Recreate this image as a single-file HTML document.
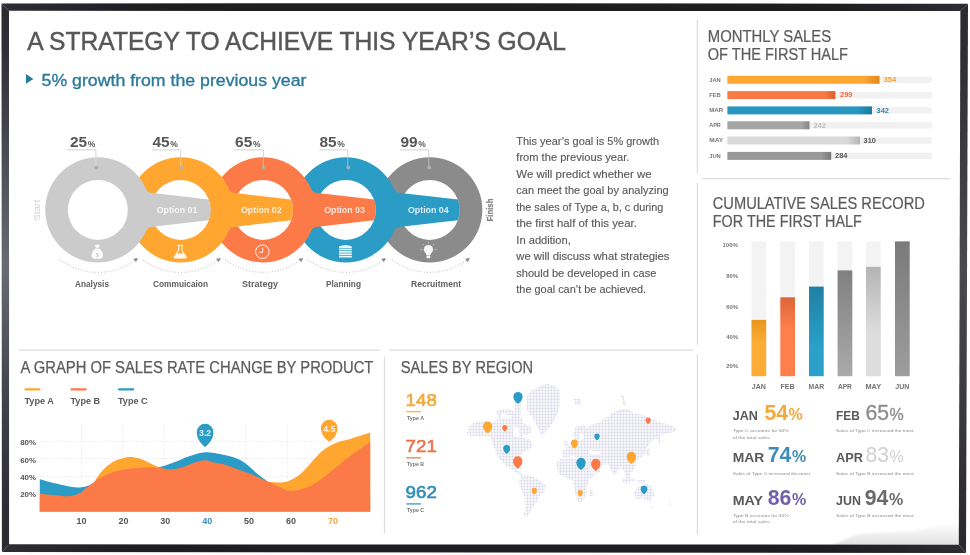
<!DOCTYPE html>
<html lang="en"><head><meta charset="utf-8"><title>A strategy to achieve this year's goal</title>
<style>
html,body{margin:0;padding:0;background:#fff;}
body{width:970px;height:555px;overflow:hidden;}
svg{display:block;font-family:"Liberation Sans", sans-serif;filter:blur(0.55px);}
</style></head><body>
<svg width="970" height="555" viewBox="0 0 970 555">
<rect x="0" y="0" width="970" height="555" fill="#ffffff"/>
<defs><linearGradient id="refl" x1="0" x2="0" y1="0" y2="1"><stop offset="0" stop-color="#e4e4e4" stop-opacity="0"/><stop offset="1" stop-color="#e0e0e0" stop-opacity="1"/></linearGradient><filter id="bl1" x="-5%" y="-20%" width="110%" height="140%"><feGaussianBlur stdDeviation="1.2"/></filter></defs>
<path d="M830,546 L858,534 L915,531 L960,521 L960,546 Z" fill="url(#refl)" filter="url(#bl1)"/>
<defs><linearGradient id="fH" x1="0" x2="1" y1="0" y2="0"><stop offset="0" stop-color="#2d2d33"/><stop offset="0.14" stop-color="#1e1e21"/><stop offset="0.86" stop-color="#1e1e21"/><stop offset="1" stop-color="#2c2c31"/></linearGradient><linearGradient id="fL" x1="0" x2="0" y1="0" y2="1"><stop offset="0" stop-color="#2a2a2f"/><stop offset="0.08" stop-color="#2e2e34"/><stop offset="0.25" stop-color="#48484f"/><stop offset="0.48" stop-color="#6a6a72"/><stop offset="0.72" stop-color="#42424a"/><stop offset="0.92" stop-color="#2d2d33"/><stop offset="1" stop-color="#2a2a2f"/></linearGradient><linearGradient id="fR" x1="0" x2="0" y1="0" y2="1"><stop offset="0" stop-color="#2a2a2f"/><stop offset="0.1" stop-color="#2e2e33"/><stop offset="0.48" stop-color="#4a4a4f"/><stop offset="0.9" stop-color="#2e2e33"/><stop offset="1" stop-color="#29292d"/></linearGradient></defs>
<path d="M1.5,3.5 Q485,2.7 968,3.8 L960.4,11.1 L9,10.8 Z" fill="url(#fH)"/>
<path d="M966,553 L1.9,552 L9.1,544.3 L958.8,544.7 Z" fill="url(#fH)"/>
<path d="M1.9,552 L1.5,3.5 L9,10.8 L9.1,544.3 Z" fill="url(#fL)"/>
<path d="M968,3.8 L966,553 L958.8,544.7 L960.4,11.1 Z" fill="url(#fR)"/>
<g stroke="#dcdcdc" stroke-width="1.2" fill="none">
<path d="M697.3,19.5 V173.5"/>
<path d="M702,178.6 H950"/>
<path d="M697.4,183 V344.7 M697.4,354.8 V534.3"/>
<path d="M19,350.2 H379.7 M389,350.2 H693"/>
<path d="M384.5,356.7 V533.5"/>
</g>
<text x="27.2" y="49.8" font-size="25.8" fill="#575757" textLength="538.8" lengthAdjust="spacingAndGlyphs" stroke="#575757" stroke-width="0.45">A STRATEGY TO ACHIEVE THIS YEAR’S GOAL</text>
<path d="M26,74 L33.4,78.9 L26,83.8 Z" fill="#2a7a9b"/>
<text x="41.6" y="85.6" font-size="16.8" fill="#2a7a9b" textLength="264.8" lengthAdjust="spacingAndGlyphs" stroke="#2a7a9b" stroke-width="0.35">5% growth from the previous year</text>
<path d="M377.10,209.9 a52.6,52.6 0 1,0 105.2,0 a52.6,52.6 0 1,0 -105.2,0 Z M399.70,209.9 a30,30 0 1,1 60,0 a30,30 0 1,1 -60,0 Z" fill="#8b8b8b" fill-rule="evenodd"/>
<path d="M293.20,209.9 a52.6,52.6 0 1,0 105.2,0 a52.6,52.6 0 1,0 -105.2,0 Z M315.80,209.9 a30,30 0 1,1 60,0 a30,30 0 1,1 -60,0 Z" fill="#2a9cc5" fill-rule="evenodd"/>
<path d="M391.24,191.40 L394.24,189.40 Q395.74,192.70 400.80,193.10 L457.88,199.60 A30,30 0 0,1 457.88,220.20 L400.80,226.70 Q395.74,227.10 394.24,230.40 L391.24,228.40 Z" fill="#2a9cc5"/>
<path d="M210.40,209.9 a52.6,52.6 0 1,0 105.2,0 a52.6,52.6 0 1,0 -105.2,0 Z M233.00,209.9 a30,30 0 1,1 60,0 a30,30 0 1,1 -60,0 Z" fill="#fb7a47" fill-rule="evenodd"/>
<path d="M308.44,191.40 L311.44,189.40 Q312.94,192.70 318.00,193.10 L373.98,199.60 A30,30 0 0,1 373.98,220.20 L318.00,226.70 Q312.94,227.10 311.44,230.40 L308.44,228.40 Z" fill="#fb7a47"/>
<path d="M128.00,209.9 a52.6,52.6 0 1,0 105.2,0 a52.6,52.6 0 1,0 -105.2,0 Z M150.60,209.9 a30,30 0 1,1 60,0 a30,30 0 1,1 -60,0 Z" fill="#ffa631" fill-rule="evenodd"/>
<path d="M226.04,191.40 L229.04,189.40 Q230.54,192.70 235.60,193.10 L291.18,199.60 A30,30 0 0,1 291.18,220.20 L235.60,226.70 Q230.54,227.10 229.04,230.40 L226.04,228.40 Z" fill="#ffa631"/>
<path d="M45.25,209.9 a52.6,52.6 0 1,0 105.2,0 a52.6,52.6 0 1,0 -105.2,0 Z M67.85,209.9 a30,30 0 1,1 60,0 a30,30 0 1,1 -60,0 Z" fill="#cbcbcb" fill-rule="evenodd"/>
<path d="M143.29,191.40 L146.29,189.40 Q147.79,192.70 152.85,193.10 L208.78,199.60 A30,30 0 0,1 208.78,220.20 L152.85,226.70 Q147.79,227.10 146.29,230.40 L143.29,228.40 Z" fill="#cbcbcb"/>
<text x="177.0" y="213.4" font-size="9.3" fill="#ffffff" font-weight="bold" text-anchor="middle" textLength="40.6" lengthAdjust="spacingAndGlyphs" fill-opacity="0.82">Option 01</text>
<text x="261.3" y="213.4" font-size="9.3" fill="#ffffff" font-weight="bold" text-anchor="middle" textLength="40.6" lengthAdjust="spacingAndGlyphs" fill-opacity="0.82">Option 02</text>
<text x="344.5" y="213.4" font-size="9.3" fill="#ffffff" font-weight="bold" text-anchor="middle" textLength="40.6" lengthAdjust="spacingAndGlyphs" fill-opacity="0.82">Option 03</text>
<text x="428.3" y="213.4" font-size="9.3" fill="#ffffff" font-weight="bold" text-anchor="middle" textLength="40.6" lengthAdjust="spacingAndGlyphs" fill-opacity="0.82">Option 04</text>
<path d="M67.3,149.9 H95.9 V157.4" stroke="#cecece" stroke-width="0.9" fill="none"/>
<circle cx="96.3" cy="167.5" r="1.9" fill="#a9a9a9" fill-opacity="0.88"/>
<path d="M95.9,157.6 V166" stroke="#ffffff" stroke-opacity="0.45" stroke-width="0.9" fill="none"/>
<text x="69.9" y="146.8" font-size="15.4" fill="#575757" font-weight="bold" textLength="17.2" lengthAdjust="spacingAndGlyphs">25</text>
<text x="87.7" y="146.8" font-size="8.6" fill="#575757" font-weight="bold" textLength="7.6" lengthAdjust="spacingAndGlyphs">%</text>
<path d="M152.1,149.9 H180.7 V157.4" stroke="#cecece" stroke-width="0.9" fill="none"/>
<circle cx="181.1" cy="167.5" r="1.9" fill="#b4b4b4" fill-opacity="0.88"/>
<path d="M180.7,157.6 V166" stroke="#ffffff" stroke-opacity="0.45" stroke-width="0.9" fill="none"/>
<text x="152.4" y="146.8" font-size="15.4" fill="#575757" font-weight="bold" textLength="17.2" lengthAdjust="spacingAndGlyphs">45</text>
<text x="170.2" y="146.8" font-size="8.6" fill="#575757" font-weight="bold" textLength="7.6" lengthAdjust="spacingAndGlyphs">%</text>
<path d="M234.8,149.9 H263.4 V157.4" stroke="#cecece" stroke-width="0.9" fill="none"/>
<circle cx="263.8" cy="167.5" r="1.9" fill="#b4b4b4" fill-opacity="0.88"/>
<path d="M263.4,157.6 V166" stroke="#ffffff" stroke-opacity="0.45" stroke-width="0.9" fill="none"/>
<text x="235.1" y="146.8" font-size="15.4" fill="#575757" font-weight="bold" textLength="17.2" lengthAdjust="spacingAndGlyphs">65</text>
<text x="252.9" y="146.8" font-size="8.6" fill="#575757" font-weight="bold" textLength="7.6" lengthAdjust="spacingAndGlyphs">%</text>
<path d="M319.2,149.9 H347.8 V157.4" stroke="#cecece" stroke-width="0.9" fill="none"/>
<circle cx="348.2" cy="167.5" r="1.9" fill="#b4b4b4" fill-opacity="0.88"/>
<path d="M347.8,157.6 V166" stroke="#ffffff" stroke-opacity="0.45" stroke-width="0.9" fill="none"/>
<text x="319.5" y="146.8" font-size="15.4" fill="#575757" font-weight="bold" textLength="17.2" lengthAdjust="spacingAndGlyphs">85</text>
<text x="337.3" y="146.8" font-size="8.6" fill="#575757" font-weight="bold" textLength="7.6" lengthAdjust="spacingAndGlyphs">%</text>
<path d="M400.2,149.9 H428.8 V157.4" stroke="#cecece" stroke-width="0.9" fill="none"/>
<circle cx="429.2" cy="167.5" r="1.9" fill="#b4b4b4" fill-opacity="0.88"/>
<path d="M428.8,157.6 V166" stroke="#ffffff" stroke-opacity="0.45" stroke-width="0.9" fill="none"/>
<text x="400.5" y="146.8" font-size="15.4" fill="#575757" font-weight="bold" textLength="17.2" lengthAdjust="spacingAndGlyphs">99</text>
<text x="418.3" y="146.8" font-size="8.6" fill="#575757" font-weight="bold" textLength="7.6" lengthAdjust="spacingAndGlyphs">%</text>
<path d="M60.2,259.8 A62.5,62.5 0 0,0 135.5,259.8" stroke="#c4c4c4" stroke-width="1.1" stroke-dasharray="1 1.9" fill="none"/>
<path d="M138.0,257.9 L136.0,262.2 L133.3,258.7 Z" fill="#8a8a8a"/>
<path d="M143.0,259.8 A62.5,62.5 0 0,0 218.2,259.8" stroke="#c4c4c4" stroke-width="1.1" stroke-dasharray="1 1.9" fill="none"/>
<path d="M220.8,257.9 L218.7,262.2 L216.1,258.7 Z" fill="#8a8a8a"/>
<path d="M225.4,259.8 A62.5,62.5 0 0,0 300.6,259.8" stroke="#c4c4c4" stroke-width="1.1" stroke-dasharray="1 1.9" fill="none"/>
<path d="M303.2,257.9 L301.1,262.2 L298.5,258.7 Z" fill="#8a8a8a"/>
<path d="M308.2,259.8 A62.5,62.5 0 0,0 383.4,259.8" stroke="#c4c4c4" stroke-width="1.1" stroke-dasharray="1 1.9" fill="none"/>
<path d="M386.0,257.9 L383.9,262.2 L381.3,258.7 Z" fill="#8a8a8a"/>
<path d="M392.1,259.8 A62.5,62.5 0 0,0 467.3,259.8" stroke="#c4c4c4" stroke-width="1.1" stroke-dasharray="1 1.9" fill="none"/>
<path d="M469.9,257.9 L467.8,262.2 L465.2,258.7 Z" fill="#8a8a8a"/>
<text x="92.0" y="287.3" font-size="8.7" fill="#606060" font-weight="bold" text-anchor="middle" textLength="34.0" lengthAdjust="spacingAndGlyphs">Analysis</text>
<text x="180.5" y="287.3" font-size="8.7" fill="#606060" font-weight="bold" text-anchor="middle" textLength="55.0" lengthAdjust="spacingAndGlyphs">Commuicaion</text>
<text x="260.0" y="287.3" font-size="8.7" fill="#606060" font-weight="bold" text-anchor="middle" textLength="36.0" lengthAdjust="spacingAndGlyphs">Strategy</text>
<text x="343.5" y="287.3" font-size="8.7" fill="#606060" font-weight="bold" text-anchor="middle" textLength="35.0" lengthAdjust="spacingAndGlyphs">Planning</text>
<text x="436.0" y="287.3" font-size="8.7" fill="#606060" font-weight="bold" text-anchor="middle" textLength="50.0" lengthAdjust="spacingAndGlyphs">Recruitment</text>
<text transform="translate(39.5,210.3) rotate(-90)" font-size="9" fill="#d2d2d2" text-anchor="middle" textLength="21" lengthAdjust="spacingAndGlyphs">Start</text>
<text transform="translate(493.2,210) rotate(-90)" font-size="8.6" fill="#858585" stroke="#858585" stroke-width="0.25" font-weight="bold" text-anchor="middle" textLength="22.8" lengthAdjust="spacingAndGlyphs">Finish</text>
<g fill="#fff" fill-opacity="0.92"><path d="M94.7,244.9 q2.6,-0.9 5.2,0 l-1.3,2.9 h-2.6 Z"/><path d="M95.39999999999999,248.4 h3.8 q3.8,3.2 3.8,6.8 q0,3.6 -3.4,3.6 h-4.6 q-3.4,0 -3.4,-3.6 q0,-3.6 3.8,-6.8 Z"/></g>
<text x="97.3" y="256.9" font-size="5.6" font-weight="bold" fill="#cbcbcb" text-anchor="middle">$</text>
<path d="M177.5,245.3 h5.4 M178.6,245.4 v5 l-4.2,6.3 q-0.7,1.2 0.7,1.2 h10.2 q1.4,0 0.7,-1.2 l-4.2,-6.3 v-5" fill="none" stroke="#fff" stroke-opacity="0.92" stroke-width="1.1"/>
<path d="M176.79999999999998,253.6 h6.8 l2.2,3.4 q0.4,0.9 -0.6,0.9 h-10 q-1,0 -0.6,-0.9 Z" fill="#fff" fill-opacity="0.92"/>
<circle cx="262.4" cy="251.7" r="6.8" fill="none" stroke="#fff" stroke-opacity="0.9" stroke-width="1"/>
<path d="M262.7,247.5 V252.29999999999998 H259.0" fill="none" stroke="#fff" stroke-opacity="0.9" stroke-width="1"/>
<g fill="#fff" fill-opacity="0.9"><path d="M339.0,246.4 q6.4,-3 12.8,0 v1.6 h-12.8 Z"/>
<rect x="339.0" y="248.6" width="12.8" height="1.7"/>
<rect x="339.0" y="251.0" width="12.8" height="1.7"/>
<rect x="339.0" y="253.4" width="12.8" height="1.7"/>
<rect x="339.0" y="255.8" width="12.8" height="1.7"/>
</g>
<g fill="#fff" fill-opacity="0.92"><circle cx="428.4" cy="249.6" r="4.6"/><path d="M425.79999999999995,253 h5.2 l-0.6,2.2 h-4 Z"/><rect x="426.5" y="255.6" width="3.8" height="2.6" rx="0.9"/></g>
<g stroke="#fff" stroke-width="0.7" opacity="0.7"><path d="M420.4,249.6 h1.7 M434.7,249.6 h1.7 M428.4,241.8 v1.6 M422.79999999999995,244 l1.1,1.1 M434.0,244 l-1.1,1.1"/></g>
<text x="516.3" y="144.8" font-size="11.1" fill="#5a5a5a" textLength="142.8" lengthAdjust="spacingAndGlyphs" stroke="#5a5a5a" stroke-width="0.15">This year’s goal is 5% growth</text>
<text x="516.3" y="161.3" font-size="11.1" fill="#5a5a5a" textLength="113.1" lengthAdjust="spacingAndGlyphs" stroke="#5a5a5a" stroke-width="0.15">from the previous year.</text>
<text x="516.3" y="177.8" font-size="11.1" fill="#5a5a5a" textLength="135.3" lengthAdjust="spacingAndGlyphs" stroke="#5a5a5a" stroke-width="0.15">We will predict whether we</text>
<text x="516.3" y="194.2" font-size="11.1" fill="#5a5a5a" textLength="152.4" lengthAdjust="spacingAndGlyphs" stroke="#5a5a5a" stroke-width="0.15">can meet the goal by analyzing</text>
<text x="516.3" y="210.7" font-size="11.1" fill="#5a5a5a" textLength="147.0" lengthAdjust="spacingAndGlyphs" stroke="#5a5a5a" stroke-width="0.15">the sales of Type a, b, c during</text>
<text x="516.3" y="227.2" font-size="11.1" fill="#5a5a5a" textLength="120.6" lengthAdjust="spacingAndGlyphs" stroke="#5a5a5a" stroke-width="0.15">the first half of this year.</text>
<text x="516.3" y="243.7" font-size="11.1" fill="#5a5a5a" textLength="54.5" lengthAdjust="spacingAndGlyphs" stroke="#5a5a5a" stroke-width="0.15">In addition,</text>
<text x="516.3" y="260.2" font-size="11.1" fill="#5a5a5a" textLength="153.1" lengthAdjust="spacingAndGlyphs" stroke="#5a5a5a" stroke-width="0.15">we will discuss what strategies</text>
<text x="516.3" y="276.6" font-size="11.1" fill="#5a5a5a" textLength="140.1" lengthAdjust="spacingAndGlyphs" stroke="#5a5a5a" stroke-width="0.15">should be developed in case</text>
<text x="516.3" y="293.1" font-size="11.1" fill="#5a5a5a" textLength="129.8" lengthAdjust="spacingAndGlyphs" stroke="#5a5a5a" stroke-width="0.15">the goal can’t be achieved.</text>
<text x="707.8" y="41.6" font-size="16.3" fill="#5c5c5c" textLength="123.4" lengthAdjust="spacingAndGlyphs" stroke="#5c5c5c" stroke-width="0.22">MONTHLY SALES</text>
<text x="707.8" y="59.7" font-size="16.3" fill="#5c5c5c" textLength="140.2" lengthAdjust="spacingAndGlyphs" stroke="#5c5c5c" stroke-width="0.22">OF THE FIRST HALF</text>
<defs>
<linearGradient id="hA" x1="0" x2="1" y1="0" y2="0"><stop offset="0" stop-color="#ffa631"/><stop offset="0.9" stop-color="#ffa631"/><stop offset="1" stop-color="#e08a1c"/></linearGradient>
<linearGradient id="hB" x1="0" x2="1" y1="0" y2="0"><stop offset="0" stop-color="#f97a45"/><stop offset="0.9" stop-color="#f97a45"/><stop offset="1" stop-color="#d95f2c"/></linearGradient>
<linearGradient id="hC" x1="0" x2="1" y1="0" y2="0"><stop offset="0" stop-color="#2797c0"/><stop offset="0.9" stop-color="#2797c0"/><stop offset="1" stop-color="#1b7a9f"/></linearGradient>
<linearGradient id="hD" x1="0" x2="1" y1="0" y2="0"><stop offset="0" stop-color="#a5a5a5"/><stop offset="0.9" stop-color="#a5a5a5"/><stop offset="1" stop-color="#858585"/></linearGradient>
<linearGradient id="hE" x1="0" x2="1" y1="0" y2="0"><stop offset="0" stop-color="#dadada"/><stop offset="0.9" stop-color="#dadada"/><stop offset="1" stop-color="#b5b5b5"/></linearGradient>
<linearGradient id="hF" x1="0" x2="1" y1="0" y2="0"><stop offset="0" stop-color="#989898"/><stop offset="0.9" stop-color="#989898"/><stop offset="1" stop-color="#7a7a7a"/></linearGradient>
<linearGradient id="vA" x1="0" x2="0" y1="0" y2="1"><stop offset="0" stop-color="#e9961d"/><stop offset="0.4" stop-color="#ffac37"/><stop offset="1" stop-color="#ffac37"/></linearGradient>
<linearGradient id="vB" x1="0" x2="0" y1="0" y2="1"><stop offset="0" stop-color="#dc653a"/><stop offset="0.4" stop-color="#ff7f4c"/><stop offset="1" stop-color="#ff7f4c"/></linearGradient>
<linearGradient id="vC" x1="0" x2="0" y1="0" y2="1"><stop offset="0" stop-color="#1f80a5"/><stop offset="0.7" stop-color="#2ba1c9"/><stop offset="1" stop-color="#2ba1c9"/></linearGradient>
<linearGradient id="vD" x1="0" x2="0" y1="0" y2="1"><stop offset="0" stop-color="#808080"/><stop offset="1" stop-color="#aaaaaa"/><stop offset="1" stop-color="#aaaaaa"/></linearGradient>
<linearGradient id="vE" x1="0" x2="0" y1="0" y2="1"><stop offset="0" stop-color="#b4b4b4"/><stop offset="0.6" stop-color="#dddddd"/><stop offset="1" stop-color="#dddddd"/></linearGradient>
<linearGradient id="vF" x1="0" x2="0" y1="0" y2="1"><stop offset="0" stop-color="#7a7a7a"/><stop offset="1" stop-color="#9d9d9d"/><stop offset="1" stop-color="#9d9d9d"/></linearGradient>
</defs>
<rect x="727.4" y="76.6" width="204.3" height="6.4" fill="#f1f1f1"/>
<rect x="727.4" y="75.8" width="152.1" height="8" fill="url(#hA)"/>
<text x="709.2" y="81.6" font-size="5" fill="#777" font-weight="bold" textLength="11.6" lengthAdjust="spacingAndGlyphs">JAN</text>
<text x="883.7" y="82.0" font-size="6.3" fill="#f0a030" font-weight="bold" textLength="12.4" lengthAdjust="spacingAndGlyphs">354</text>
<rect x="727.4" y="91.9" width="204.3" height="6.4" fill="#f1f1f1"/>
<rect x="727.4" y="91.1" width="108.0" height="8" fill="url(#hB)"/>
<text x="709.2" y="96.9" font-size="5" fill="#777" font-weight="bold" textLength="11.6" lengthAdjust="spacingAndGlyphs">FEB</text>
<text x="840.0" y="97.3" font-size="6.3" fill="#f06a3a" font-weight="bold" textLength="12.4" lengthAdjust="spacingAndGlyphs">299</text>
<rect x="727.4" y="107.2" width="204.3" height="6.4" fill="#f1f1f1"/>
<rect x="727.4" y="106.4" width="144.6" height="8" fill="url(#hC)"/>
<text x="709.2" y="112.2" font-size="5" fill="#777" font-weight="bold" textLength="14.0" lengthAdjust="spacingAndGlyphs">MAR</text>
<text x="876.6" y="112.6" font-size="6.3" fill="#2a8ab5" font-weight="bold" textLength="12.4" lengthAdjust="spacingAndGlyphs">342</text>
<rect x="727.4" y="122.1" width="204.3" height="6.4" fill="#f1f1f1"/>
<rect x="727.4" y="121.3" width="82.1" height="8" fill="url(#hD)"/>
<text x="709.2" y="127.1" font-size="5" fill="#777" font-weight="bold" textLength="11.6" lengthAdjust="spacingAndGlyphs">APR</text>
<text x="813.4" y="127.5" font-size="6.3" fill="#bdbdbd" font-weight="bold" textLength="12.4" lengthAdjust="spacingAndGlyphs">242</text>
<rect x="727.4" y="137.3" width="204.3" height="6.4" fill="#f1f1f1"/>
<rect x="727.4" y="136.5" width="132.6" height="8" fill="url(#hE)"/>
<text x="709.2" y="142.3" font-size="5" fill="#777" font-weight="bold" textLength="14.0" lengthAdjust="spacingAndGlyphs">MAY</text>
<text x="863.6" y="142.7" font-size="6.3" fill="#555" font-weight="bold" textLength="12.4" lengthAdjust="spacingAndGlyphs">310</text>
<rect x="727.4" y="152.7" width="204.3" height="6.4" fill="#f1f1f1"/>
<rect x="727.4" y="151.9" width="103.8" height="8" fill="url(#hF)"/>
<text x="709.2" y="157.7" font-size="5" fill="#777" font-weight="bold" textLength="11.6" lengthAdjust="spacingAndGlyphs">JUN</text>
<text x="835.0" y="158.1" font-size="6.3" fill="#555" font-weight="bold" textLength="12.4" lengthAdjust="spacingAndGlyphs">284</text>
<text x="712.8" y="208.6" font-size="17" fill="#5c5c5c" textLength="212.0" lengthAdjust="spacingAndGlyphs" stroke="#5c5c5c" stroke-width="0.22">CUMULATIVE SALES RECORD</text>
<text x="712.8" y="226.5" font-size="17" fill="#5c5c5c" textLength="149.0" lengthAdjust="spacingAndGlyphs" stroke="#5c5c5c" stroke-width="0.22">FOR THE FIRST HALF</text>
<rect x="751.5" y="241.4" width="14.7" height="134.8" fill="#f3f3f3"/>
<rect x="751.5" y="319.9" width="14.7" height="56.3" fill="url(#vA)"/>
<text x="758.8" y="389.0" font-size="6.8" fill="#727272" font-weight="bold" text-anchor="middle" textLength="14.0" lengthAdjust="spacingAndGlyphs">JAN</text>
<rect x="780.3" y="241.4" width="14.7" height="134.8" fill="#f3f3f3"/>
<rect x="780.3" y="297.3" width="14.7" height="78.9" fill="url(#vB)"/>
<text x="787.6" y="389.0" font-size="6.8" fill="#727272" font-weight="bold" text-anchor="middle" textLength="14.0" lengthAdjust="spacingAndGlyphs">FEB</text>
<rect x="809" y="241.4" width="14.7" height="134.8" fill="#f3f3f3"/>
<rect x="809" y="286.6" width="14.7" height="89.6" fill="url(#vC)"/>
<text x="816.3" y="389.0" font-size="6.8" fill="#727272" font-weight="bold" text-anchor="middle" textLength="15.6" lengthAdjust="spacingAndGlyphs">MAR</text>
<rect x="837.6" y="241.4" width="14.7" height="134.8" fill="#f3f3f3"/>
<rect x="837.6" y="270.4" width="14.7" height="105.8" fill="url(#vD)"/>
<text x="844.9" y="389.0" font-size="6.8" fill="#727272" font-weight="bold" text-anchor="middle" textLength="14.0" lengthAdjust="spacingAndGlyphs">APR</text>
<rect x="866" y="241.4" width="14.7" height="134.8" fill="#f3f3f3"/>
<rect x="866" y="266.8" width="14.7" height="109.4" fill="url(#vE)"/>
<text x="873.3" y="389.0" font-size="6.8" fill="#727272" font-weight="bold" text-anchor="middle" textLength="15.6" lengthAdjust="spacingAndGlyphs">MAY</text>
<rect x="895" y="241.4" width="14.7" height="134.8" fill="#f3f3f3"/>
<rect x="895" y="241.4" width="14.7" height="134.8" fill="url(#vF)"/>
<text x="902.3" y="389.0" font-size="6.8" fill="#727272" font-weight="bold" text-anchor="middle" textLength="14.0" lengthAdjust="spacingAndGlyphs">JUN</text>
<text x="738.0" y="247.3" font-size="5.6" fill="#777" font-weight="bold" text-anchor="end" textLength="15.6" lengthAdjust="spacingAndGlyphs">100%</text>
<text x="738.0" y="278.2" font-size="5.6" fill="#777" font-weight="bold" text-anchor="end" textLength="11.8" lengthAdjust="spacingAndGlyphs">80%</text>
<text x="738.0" y="308.7" font-size="5.6" fill="#777" font-weight="bold" text-anchor="end" textLength="11.8" lengthAdjust="spacingAndGlyphs">60%</text>
<text x="738.0" y="338.5" font-size="5.6" fill="#777" font-weight="bold" text-anchor="end" textLength="11.8" lengthAdjust="spacingAndGlyphs">40%</text>
<text x="738.0" y="368.2" font-size="5.6" fill="#777" font-weight="bold" text-anchor="end" textLength="11.8" lengthAdjust="spacingAndGlyphs">20%</text>
<text x="732.7" y="419.7" font-size="13.6" fill="#585858" font-weight="bold" textLength="25.2" lengthAdjust="spacingAndGlyphs">JAN</text>
<text x="764.4" y="419.5" font-size="22.3" fill="#f5a83a" font-weight="bold" textLength="23.6" lengthAdjust="spacingAndGlyphs">54</text>
<text x="788.6" y="419.5" font-size="15.6" fill="#f5a83a" font-weight="bold" textLength="14.2" lengthAdjust="spacingAndGlyphs">%</text>
<text x="732.7" y="431.9" font-size="4.4" fill="#8c8c8c" textLength="56.0" lengthAdjust="spacingAndGlyphs">Type C accounts for 50%</text>
<text x="732.7" y="438.9" font-size="4.4" fill="#8c8c8c" textLength="38.4" lengthAdjust="spacingAndGlyphs">of the total sales.</text>
<text x="836.1" y="419.7" font-size="13.6" fill="#585858" font-weight="bold" textLength="23.7" lengthAdjust="spacingAndGlyphs">FEB</text>
<text x="865.4" y="419.5" font-size="22.3" fill="#8c8c8c" textLength="23.6" lengthAdjust="spacingAndGlyphs" stroke="#8c8c8c" stroke-width="0.3">65</text>
<text x="889.6" y="419.5" font-size="15.6" fill="#8c8c8c" textLength="14.2" lengthAdjust="spacingAndGlyphs" stroke="#8c8c8c" stroke-width="0.3">%</text>
<text x="836.1" y="431.9" font-size="4.4" fill="#8c8c8c" textLength="78.6" lengthAdjust="spacingAndGlyphs">Sales of Type C increased the most.</text>
<text x="732.7" y="462.4" font-size="13.6" fill="#585858" font-weight="bold" textLength="31.6" lengthAdjust="spacingAndGlyphs">MAR</text>
<text x="767.8" y="462.2" font-size="22.3" fill="#3d8cb8" font-weight="bold" textLength="23.6" lengthAdjust="spacingAndGlyphs">74</text>
<text x="792.0" y="462.2" font-size="15.6" fill="#3d8cb8" font-weight="bold" textLength="14.2" lengthAdjust="spacingAndGlyphs">%</text>
<text x="732.7" y="475.2" font-size="4.4" fill="#8c8c8c" textLength="78.6" lengthAdjust="spacingAndGlyphs">Sales of Type C increased the most.</text>
<text x="836.1" y="462.4" font-size="13.6" fill="#585858" font-weight="bold" textLength="27.0" lengthAdjust="spacingAndGlyphs">APR</text>
<text x="865.4" y="462.2" font-size="22.3" fill="#d0d0d0" textLength="23.6" lengthAdjust="spacingAndGlyphs">83</text>
<text x="889.6" y="462.2" font-size="15.6" fill="#d0d0d0" textLength="14.2" lengthAdjust="spacingAndGlyphs">%</text>
<text x="836.1" y="475.2" font-size="4.4" fill="#8c8c8c" textLength="78.6" lengthAdjust="spacingAndGlyphs">Sales of Type B increased the most.</text>
<text x="732.7" y="505.3" font-size="13.6" fill="#585858" font-weight="bold" textLength="30.4" lengthAdjust="spacingAndGlyphs">MAY</text>
<text x="767.8" y="505.1" font-size="22.3" fill="#7161a9" font-weight="bold" textLength="23.6" lengthAdjust="spacingAndGlyphs">86</text>
<text x="792.0" y="505.1" font-size="15.6" fill="#7161a9" font-weight="bold" textLength="14.2" lengthAdjust="spacingAndGlyphs">%</text>
<text x="732.7" y="516.7" font-size="4.4" fill="#8c8c8c" textLength="56.0" lengthAdjust="spacingAndGlyphs">Type B accounts for 45%</text>
<text x="732.7" y="523.1" font-size="4.4" fill="#8c8c8c" textLength="38.4" lengthAdjust="spacingAndGlyphs">of the total sales.</text>
<text x="836.1" y="505.3" font-size="13.6" fill="#585858" font-weight="bold" textLength="24.8" lengthAdjust="spacingAndGlyphs">JUN</text>
<text x="864.8" y="505.1" font-size="22.3" fill="#6a6a6a" font-weight="bold" textLength="23.6" lengthAdjust="spacingAndGlyphs">94</text>
<text x="889.0" y="505.1" font-size="15.6" fill="#6a6a6a" font-weight="bold" textLength="14.2" lengthAdjust="spacingAndGlyphs">%</text>
<text x="836.1" y="516.7" font-size="4.4" fill="#8c8c8c" textLength="78.6" lengthAdjust="spacingAndGlyphs">Sales of Type B increased the most.</text>
<text x="20.6" y="373.2" font-size="16" fill="#5c5c5c" textLength="352.8" lengthAdjust="spacingAndGlyphs" stroke="#5c5c5c" stroke-width="0.25">A GRAPH OF SALES RATE CHANGE BY PRODUCT</text>
<rect x="24.4" y="388.3" width="16.2" height="2.2" rx="1" fill="#ffa631"/>
<text x="24.4" y="403.8" font-size="9.4" fill="#5a5a5a" font-weight="bold" textLength="29.6" lengthAdjust="spacingAndGlyphs">Type A</text>
<rect x="70.5" y="388.3" width="16.2" height="2.2" rx="1" fill="#fb7a47"/>
<text x="70.5" y="403.8" font-size="9.4" fill="#5a5a5a" font-weight="bold" textLength="29.6" lengthAdjust="spacingAndGlyphs">Type B</text>
<rect x="118" y="388.3" width="16.2" height="2.2" rx="1" fill="#2a9cc5"/>
<text x="118.0" y="403.8" font-size="9.4" fill="#5a5a5a" font-weight="bold" textLength="29.6" lengthAdjust="spacingAndGlyphs">Type C</text>
<g stroke="#dedede" stroke-width="0.8" stroke-dasharray="1 1.4" fill="none">
<path d="M39.8,441.3 H370"/>
<path d="M39.8,458.6 H370"/>
<path d="M39.8,476.6 H370"/>
<path d="M81.3,424.3 V478"/>
<path d="M122.8,424.3 V478"/>
<path d="M163.8,424.3 V478"/>
<path d="M246.1,424.3 V478"/>
<path d="M287.6,424.3 V478"/>
</g>
<path d="M39.8,479.2 C42.5,479.9 49.8,482.1 56.0,483.5 C62.2,484.9 71.2,487.4 77.2,487.5 C83.2,487.6 86.2,486.0 91.7,484.4 C97.2,482.8 99.3,480.7 110.0,478.0 C120.7,475.3 145.2,470.7 156.0,468.0 C166.8,465.3 169.3,464.0 175.0,462.0 C180.7,460.0 184.9,457.6 190.0,456.0 C195.1,454.4 200.4,452.6 205.7,452.3 C211.0,452.1 216.8,453.5 222.0,454.5 C227.2,455.5 232.6,456.8 236.8,458.5 C241.0,460.2 243.8,462.1 247.2,464.7 C250.6,467.3 254.2,471.3 257.5,474.0 C260.8,476.7 263.1,478.2 266.9,480.9 C270.6,483.6 274.5,487.3 280.0,490.0 C285.5,492.7 285.0,495.8 300.0,497.0 C315.0,498.2 358.5,497.0 370.2,497.0 L370.2,511.6 L39.8,511.6 Z" fill="#2a9cc5"/>
<path d="M39.8,502.0 C47.2,501.7 74.8,503.4 84.0,500.0 C93.2,496.6 91.8,486.1 94.8,481.3 C97.8,476.5 99.4,473.9 102.0,471.0 C104.6,468.1 107.5,465.6 110.3,463.7 C113.1,461.8 115.5,460.7 118.6,459.6 C121.7,458.5 125.5,457.2 129.0,457.0 C132.5,456.8 136.0,457.5 139.4,458.5 C142.8,459.5 146.6,461.6 149.7,463.0 C152.8,464.4 153.8,465.3 158.0,466.8 C162.2,468.3 168.0,470.8 175.0,472.0 C182.0,473.2 187.5,472.3 200.0,474.0 C212.5,475.7 238.7,480.7 250.0,482.0 C261.3,483.3 263.2,481.6 267.9,481.7 C272.6,481.8 274.9,482.5 278.3,482.4 C281.8,482.3 285.2,482.1 288.6,480.9 C292.1,479.7 295.5,477.8 299.0,475.1 C302.5,472.4 305.9,468.3 309.4,464.7 C312.8,461.1 316.2,456.5 319.7,453.3 C323.1,450.1 326.7,447.7 330.1,445.7 C333.6,443.7 336.9,442.6 340.4,441.5 C343.8,440.4 345.8,440.3 350.8,438.8 C355.8,437.3 367.0,433.6 370.2,432.6 L370.2,511.6 L39.8,511.6 Z" fill="#ffa631"/>
<path d="M39.8,493.8 C42.3,494.0 50.1,494.8 55.0,495.2 C59.9,495.6 64.8,496.6 69.0,496.2 C73.2,495.8 77.2,494.3 80.0,493.0 C82.8,491.7 82.5,490.9 85.5,488.6 C88.5,486.3 94.2,481.6 98.0,479.2 C101.8,476.8 104.9,475.4 108.3,474.0 C111.7,472.6 114.8,471.4 118.6,470.5 C122.4,469.6 125.8,469.1 131.0,468.5 C136.2,467.9 144.9,467.3 149.7,467.2 C154.5,467.1 156.9,467.4 160.0,467.8 C163.1,468.2 164.9,469.3 168.4,469.3 C171.9,469.3 176.7,468.9 180.8,467.8 C184.9,466.8 189.2,464.3 193.2,463.0 C197.2,461.7 201.0,460.2 204.6,460.2 C208.2,460.1 211.5,461.9 215.0,462.7 C218.5,463.5 220.0,463.1 225.7,464.9 C231.4,466.7 242.0,470.7 249.4,473.6 C256.8,476.5 264.1,479.9 270.0,482.5 C275.9,485.1 280.8,488.0 285.0,489.4 C289.2,490.8 290.9,491.1 295.0,490.6 C299.1,490.1 305.3,488.2 309.4,486.5 C313.5,484.8 316.2,482.7 319.7,480.3 C323.1,477.9 326.7,474.8 330.1,472.0 C333.6,469.2 336.9,466.5 340.4,463.7 C343.8,460.9 347.3,458.0 350.8,455.4 C354.3,452.8 358.0,450.4 361.2,448.2 C364.4,445.9 368.7,442.9 370.2,441.9 L370.2,511.6 L39.8,511.6 Z" fill="#fb7a47"/>
<path d="M196.80,432.00 A8.3,8.3 0 0,1 213.40,432.00 C213.40,439.45 208.59,444.52 205.10,446.90 C201.61,444.52 196.80,439.45 196.80,432.00 Z" fill="#2a9cc5"/>
<text x="205.1" y="436.2" font-size="9" fill="#fff" font-weight="bold" text-anchor="middle" textLength="12.0" lengthAdjust="spacingAndGlyphs" fill-opacity="0.85">3.2</text>
<path d="M320.90,428.00 A8.3,8.3 0 0,1 337.50,428.00 C337.50,434.80 332.69,439.42 329.20,441.60 C325.71,439.42 320.90,434.80 320.90,428.00 Z" fill="#ffa631"/>
<text x="329.2" y="432.2" font-size="9" fill="#fff" font-weight="bold" text-anchor="middle" textLength="12.0" lengthAdjust="spacingAndGlyphs" fill-opacity="0.85">4.5</text>
<text x="81.5" y="524.1" font-size="8.2" fill="#555" font-weight="bold" text-anchor="middle" textLength="10.0" lengthAdjust="spacingAndGlyphs">10</text>
<text x="123.4" y="524.1" font-size="8.2" fill="#555" font-weight="bold" text-anchor="middle" textLength="10.0" lengthAdjust="spacingAndGlyphs">20</text>
<text x="165.3" y="524.1" font-size="8.2" fill="#555" font-weight="bold" text-anchor="middle" textLength="10.0" lengthAdjust="spacingAndGlyphs">30</text>
<text x="207.2" y="524.1" font-size="8.2" fill="#3a8fbc" font-weight="bold" text-anchor="middle" textLength="10.0" lengthAdjust="spacingAndGlyphs">40</text>
<text x="249.1" y="524.1" font-size="8.2" fill="#555" font-weight="bold" text-anchor="middle" textLength="10.0" lengthAdjust="spacingAndGlyphs">50</text>
<text x="291.0" y="524.1" font-size="8.2" fill="#555" font-weight="bold" text-anchor="middle" textLength="10.0" lengthAdjust="spacingAndGlyphs">60</text>
<text x="332.9" y="524.1" font-size="8.2" fill="#f2a43a" font-weight="bold" text-anchor="middle" textLength="10.0" lengthAdjust="spacingAndGlyphs">70</text>
<text x="20.2" y="444.9" font-size="8" fill="#555" font-weight="bold" textLength="15.8" lengthAdjust="spacingAndGlyphs">80%</text>
<text x="20.2" y="462.9" font-size="8" fill="#555" font-weight="bold" textLength="15.8" lengthAdjust="spacingAndGlyphs">60%</text>
<text x="20.2" y="479.8" font-size="8" fill="#555" font-weight="bold" textLength="15.8" lengthAdjust="spacingAndGlyphs">40%</text>
<text x="20.2" y="496.8" font-size="8" fill="#555" font-weight="bold" textLength="15.8" lengthAdjust="spacingAndGlyphs">20%</text>
<text x="400.8" y="373.1" font-size="16" fill="#5c5c5c" textLength="132.4" lengthAdjust="spacingAndGlyphs" stroke="#5c5c5c" stroke-width="0.25">SALES BY REGION</text>
<text x="405.6" y="406.0" font-size="16.9" fill="#f4a83c" textLength="31.2" lengthAdjust="spacingAndGlyphs" stroke="#f4a83c" stroke-width="0.6">148</text>
<rect x="406.3" y="410.9" width="14.8" height="1.4" fill="#f4a83c" fill-opacity="0.85"/>
<text x="407.0" y="419.6" font-size="5.4" fill="#767676" font-weight="bold" textLength="17.0" lengthAdjust="spacingAndGlyphs">Type A</text>
<text x="405.6" y="452.2" font-size="16.9" fill="#ea744a" textLength="31.2" lengthAdjust="spacingAndGlyphs" stroke="#ea744a" stroke-width="0.6">721</text>
<rect x="406.3" y="457.1" width="14.8" height="1.4" fill="#ea744a" fill-opacity="0.85"/>
<text x="407.0" y="465.8" font-size="5.4" fill="#767676" font-weight="bold" textLength="17.0" lengthAdjust="spacingAndGlyphs">Type B</text>
<text x="405.6" y="498.3" font-size="16.9" fill="#2b8eb8" textLength="31.2" lengthAdjust="spacingAndGlyphs" stroke="#2b8eb8" stroke-width="0.6">962</text>
<rect x="406.3" y="503.2" width="14.8" height="1.4" fill="#2b8eb8" fill-opacity="0.85"/>
<text x="407.0" y="511.9" font-size="5.4" fill="#767676" font-weight="bold" textLength="17.0" lengthAdjust="spacingAndGlyphs">Type C</text>
<path d="M545.0,384.5h4.0M540.5,386.0h14.5M537.5,387.5h19.0M534.5,389.0h23.5M531.5,390.5h28.0M530.0,392.0h29.5M528.5,393.5h31.0M528.5,395.0h31.0M621.5,395.0h1.0M527.0,396.5h32.5M621.5,396.5h2.5M527.0,398.0h32.5M621.5,398.0h2.5M527.0,399.5h32.5M573.5,399.5h7.0M623.0,399.5h1.0M519.5,401.0h1.0M527.0,401.0h32.5M575.0,401.0h5.5M623.0,401.0h2.5M515.0,402.5h5.5M527.0,402.5h32.5M575.0,402.5h5.5M623.0,402.5h2.5M515.0,404.0h5.5M527.0,404.0h32.5M575.0,404.0h5.5M623.0,404.0h2.5M515.0,405.5h5.5M527.0,405.5h32.5M624.5,405.5h1.0M515.0,407.0h5.5M527.0,407.0h32.5M515.0,408.5h5.5M527.0,408.5h31.0M500.0,410.0h11.5M515.0,410.0h5.5M527.0,410.0h31.0M618.5,410.0h11.5M497.0,411.5h16.0M515.0,411.5h5.5M528.5,411.5h29.5M615.5,411.5h16.0M497.0,413.0h23.5M530.0,413.0h28.0M612.5,413.0h20.5M497.0,414.5h4.0M506.0,414.5h14.5M530.0,414.5h26.5M611.0,414.5h29.5M498.5,416.0h2.5M512.0,416.0h8.5M531.5,416.0h25.0M609.5,416.0h35.5M498.5,417.5h2.5M510.5,417.5h10.0M533.0,417.5h22.0M606.5,417.5h41.5M497.0,419.0h25.0M533.0,419.0h22.0M605.0,419.0h46.0M497.0,420.5h25.0M534.5,420.5h19.0M602.0,420.5h53.5M476.0,422.0h10.0M494.0,422.0h28.0M536.0,422.0h17.5M600.5,422.0h59.5M473.0,423.5h50.5M536.0,423.5h16.0M596.0,423.5h68.5M471.5,425.0h55.0M536.0,425.0h14.5M582.5,425.0h1.0M591.5,425.0h77.5M470.0,426.5h43.0M515.0,426.5h14.5M537.5,426.5h13.0M578.0,426.5h7.0M588.5,426.5h85.0M468.5,428.0h44.5M519.5,428.0h11.5M537.5,428.0h11.5M575.0,428.0h101.5M468.5,429.5h44.5M519.5,429.5h11.5M539.0,429.5h8.5M575.0,429.5h101.5M468.5,431.0h44.5M519.5,431.0h11.5M539.0,431.0h7.0M575.0,431.0h100.0M467.0,432.5h46.0M519.5,432.5h11.5M540.5,432.5h4.0M573.5,432.5h97.0M467.0,434.0h46.0M519.5,434.0h8.5M540.5,434.0h2.5M573.5,434.0h5.5M582.5,434.0h80.5M470.0,435.5h43.0M519.5,435.5h2.5M573.5,435.5h5.5M584.0,435.5h76.0M489.5,437.0h28.0M519.5,437.0h2.5M575.0,437.0h4.0M584.0,437.0h76.0M491.0,438.5h34.0M575.0,438.5h4.0M584.0,438.5h76.0M491.0,440.0h38.5M575.0,440.0h4.0M581.0,440.0h73.0M657.5,440.0h2.5M492.5,441.5h38.5M564.5,441.5h2.5M575.0,441.5h76.0M659.0,441.5h1.0M492.5,443.0h38.5M564.5,443.0h2.5M572.0,443.0h77.5M659.0,443.0h1.0M492.5,444.5h40.0M564.5,444.5h4.0M570.5,444.5h79.0M494.0,446.0h38.5M564.5,446.0h83.5M494.0,447.5h37.0M567.5,447.5h79.0M495.5,449.0h34.0M566.0,449.0h80.5M648.5,449.0h1.0M495.5,450.5h31.0M563.0,450.5h26.5M591.5,450.5h58.0M495.5,452.0h26.5M561.5,452.0h28.0M600.5,452.0h44.5M647.0,452.0h2.5M497.0,453.5h25.0M563.0,453.5h26.5M600.5,453.5h44.5M647.0,453.5h2.5M497.0,455.0h23.5M563.0,455.0h80.5M647.0,455.0h2.5M498.5,456.5h22.0M563.0,456.5h7.0M575.0,456.5h67.0M498.5,458.0h22.0M570.5,458.0h2.5M579.5,458.0h59.5M500.0,459.5h20.5M560.0,459.5h20.5M584.0,459.5h53.5M501.5,461.0h20.5M558.5,461.0h26.5M587.0,461.0h49.0M503.0,462.5h19.0M557.0,462.5h29.5M588.5,462.5h47.5M504.5,464.0h16.0M557.0,464.0h49.0M608.0,464.0h28.0M506.0,465.5h14.5M557.0,465.5h31.0M590.0,465.5h11.5M609.5,465.5h25.0M507.5,467.0h13.0M557.0,467.0h44.5M609.5,467.0h25.0M510.5,468.5h11.5M557.0,468.5h32.5M591.5,468.5h10.0M611.0,468.5h8.5M621.5,468.5h13.0M513.5,470.0h4.0M558.5,470.0h31.0M591.5,470.0h8.5M611.0,470.0h7.0M623.0,470.0h10.0M515.0,471.5h4.0M558.5,471.5h32.5M593.0,471.5h7.0M612.5,471.5h4.0M624.5,471.5h7.0M516.5,473.0h4.0M558.5,473.0h34.0M594.5,473.0h2.5M612.5,473.0h4.0M624.5,473.0h5.5M519.5,474.5h2.5M560.0,474.5h34.0M614.0,474.5h1.0M626.0,474.5h4.0M521.0,476.0h10.0M563.0,476.0h31.0M626.0,476.0h4.0M521.0,477.5h13.0M566.0,477.5h26.5M626.0,477.5h4.0M521.0,479.0h16.0M569.0,479.0h20.5M623.0,479.0h11.5M519.5,480.5h19.0M573.5,480.5h14.5M623.0,480.5h11.5M638.0,480.5h7.0M519.5,482.0h22.0M573.5,482.0h14.5M623.0,482.0h7.0M638.0,482.0h7.0M519.5,483.5h23.5M573.5,483.5h14.5M519.5,485.0h26.5M573.5,485.0h14.5M642.5,485.0h7.0M521.0,486.5h25.0M575.0,486.5h11.5M639.5,486.5h11.5M521.0,488.0h23.5M575.0,488.0h11.5M636.5,488.0h14.5M521.0,489.5h23.5M575.0,489.5h11.5M636.5,489.5h16.0M522.5,491.0h22.0M575.0,491.0h11.5M590.0,491.0h2.5M635.0,491.0h17.5M522.5,492.5h20.5M575.0,492.5h11.5M590.0,492.5h2.5M633.5,492.5h20.5M522.5,494.0h19.0M575.0,494.0h11.5M590.0,494.0h2.5M633.5,494.0h20.5M524.0,495.5h16.0M576.5,495.5h8.5M590.0,495.5h2.5M635.0,495.5h19.0M524.0,497.0h14.5M576.5,497.0h8.5M635.0,497.0h17.5M525.5,498.5h13.0M576.5,498.5h7.0M636.5,498.5h4.0M644.0,498.5h7.0M525.5,500.0h11.5M576.5,500.0h7.0M647.0,500.0h4.0M525.5,501.5h11.5M578.0,501.5h4.0M525.5,503.0h10.0M669.5,503.0h1.0M525.5,504.5h8.5M669.5,504.5h1.0M525.5,506.0h8.5M525.5,507.5h7.0M651.5,507.5h1.0M525.5,509.0h5.5M525.5,510.5h5.5M525.5,512.0h4.0M524.0,513.5h5.5M524.0,515.0h4.0M525.5,516.5h1.0" stroke="#d6d6e8" stroke-width="1" stroke-dasharray="1 0.5" fill="none"/>
<path d="M513.40,396.50 A4.6,4.6 0 0,1 522.60,396.50 C522.60,400.18 519.93,402.68 518.00,403.86 C516.07,402.68 513.40,400.18 513.40,396.50 Z" fill="#2a9cc5"/>
<path d="M483.10,426.00 A4.6,4.6 0 0,1 492.30,426.00 C492.30,429.68 489.63,432.18 487.70,433.36 C485.77,432.18 483.10,429.68 483.10,426.00 Z" fill="#ffa631"/>
<path d="M502.20,427.60 A2.6,2.6 0 0,1 507.40,427.60 C507.40,429.68 505.89,431.09 504.80,431.76 C503.71,431.09 502.20,429.68 502.20,427.60 Z" fill="#fb7a47"/>
<path d="M503.30,448.50 A3.4,3.4 0 0,1 510.10,448.50 C510.10,451.22 508.13,453.07 506.70,453.94 C505.27,453.07 503.30,451.22 503.30,448.50 Z" fill="#2a9cc5"/>
<path d="M513.00,461.00 A4.7,4.7 0 0,1 522.40,461.00 C522.40,464.76 519.67,467.32 517.70,468.52 C515.73,467.32 513.00,464.76 513.00,461.00 Z" fill="#fb7a47"/>
<path d="M531.70,490.40 A2.6,2.6 0 0,1 536.90,490.40 C536.90,492.48 535.39,493.89 534.30,494.56 C533.21,493.89 531.70,492.48 531.70,490.40 Z" fill="#ffa631"/>
<path d="M570.90,443.00 A3.5,3.5 0 0,1 577.90,443.00 C577.90,445.80 575.87,447.70 574.40,448.60 C572.93,447.70 570.90,445.80 570.90,443.00 Z" fill="#ffa631"/>
<path d="M594.40,436.20 A2.6,2.6 0 0,1 599.60,436.20 C599.60,438.28 598.09,439.69 597.00,440.36 C595.91,439.69 594.40,438.28 594.40,436.20 Z" fill="#2a9cc5"/>
<path d="M576.30,462.50 A4.7,4.7 0 0,1 585.70,462.50 C585.70,466.26 582.97,468.82 581.00,470.02 C579.03,468.82 576.30,466.26 576.30,462.50 Z" fill="#2a9cc5"/>
<path d="M591.10,463.50 A4.7,4.7 0 0,1 600.50,463.50 C600.50,467.26 597.77,469.82 595.80,471.02 C593.83,469.82 591.10,467.26 591.10,463.50 Z" fill="#fb7a47"/>
<path d="M577.60,492.50 A2.6,2.6 0 0,1 582.80,492.50 C582.80,494.58 581.29,495.99 580.20,496.66 C579.11,495.99 577.60,494.58 577.60,492.50 Z" fill="#ffa631"/>
<path d="M626.70,456.50 A4.7,4.7 0 0,1 636.10,456.50 C636.10,460.26 633.37,462.82 631.40,464.02 C629.43,462.82 626.70,460.26 626.70,456.50 Z" fill="#ffa631"/>
<path d="M645.60,420.00 A2.6,2.6 0 0,1 650.80,420.00 C650.80,422.08 649.29,423.49 648.20,424.16 C647.11,423.49 645.60,422.08 645.60,420.00 Z" fill="#fb7a47"/>
<path d="M640.70,489.00 A3.3,3.3 0 0,1 647.30,489.00 C647.30,491.64 645.39,493.44 644.00,494.28 C642.61,493.44 640.70,491.64 640.70,489.00 Z" fill="#2a9cc5"/>
</svg>
</body></html>
